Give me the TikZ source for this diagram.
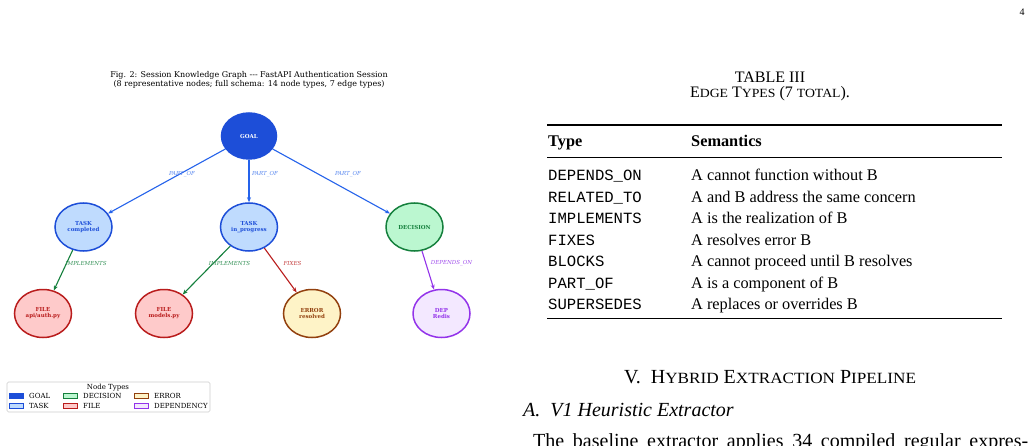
\documentclass[tikz,border=0pt]{standalone}
\usepackage{fontspec}
\setmainfont{Liberation Serif}
\setmonofont{Liberation Mono}
\newfontfamily\figfont{DejaVu Serif}
\newfontfamily\scfont[FakeStretch=1.1]{Liberation Serif}
\usetikzlibrary{arrows.meta, shapes.geometric}

\definecolor{goalblue}{HTML}{1D4ED8}
\definecolor{taskfill}{HTML}{BFDBFE}
\definecolor{decfill}{HTML}{BBF7D0}
\definecolor{decline}{HTML}{15803D}
\definecolor{filefill}{HTML}{FECACA}
\definecolor{fileline}{HTML}{B91C1C}
\definecolor{errfill}{HTML}{FEF3C7}
\definecolor{errline}{HTML}{92400E}
\definecolor{depfill}{HTML}{F3E8FF}
\definecolor{depline}{HTML}{9333EA}
\definecolor{partblue}{HTML}{2563EB}
\definecolor{implgreen}{HTML}{15803D}
\definecolor{legline}{HTML}{CCCCCC}

\newcommand\fsz[1]{\fontsize{#1}{#1}\selectfont}
\newcommand\smc[2]{{\scfont\fsz{#2}#1}}

\begin{document}
\begin{tikzpicture}[x=1pt, y=-1pt, >={Stealth[length=5pt, width=4pt]}]

  \tikzstyle{knode}=[ellipse, line width=1.5pt, minimum width=57pt, minimum height=48pt, inner sep=0pt, align=center, font=\figfont\bfseries\fontsize{5.5}{6}\selectfont]
  \tikzstyle{goal}=[knode, draw=goalblue, fill=goalblue, text=white, minimum width=55pt, minimum height=46pt]
  \tikzstyle{task}=[knode, draw=goalblue, fill=taskfill, text=goalblue]
  \tikzstyle{dec}=[knode, draw=decline, fill=decfill, text=decline]
  \tikzstyle{filn}=[knode, draw=fileline, fill=filefill, text=fileline]
  \tikzstyle{err}=[knode, draw=errline, fill=errfill, text=errline]
  \tikzstyle{dep}=[knode, draw=depline, fill=depfill, text=depline]
  \tikzstyle{rel}=[line width=1.1pt, ->]
  \tikzstyle{elab}=[inner sep=0pt, font=\figfont\itshape\fontsize{5.5}{6}\selectfont]
  \tikzstyle{patch}=[draw, line width=0.8pt, minimum width=14pt, minimum height=5pt, inner sep=0pt]
  \tikzstyle{legtxt}=[anchor=west, inner sep=0pt, font=\figfont\fontsize{7}{8}\selectfont]
  \tikzstyle{cell}=[anchor=base west, inner sep=0pt, font=\fontsize{16.3}{18}\selectfont]
  \tikzstyle{code}=[cell, font=\ttfamily\fontsize{15.6}{18}\selectfont]

  \clip (0,0) rectangle (1032,446);
  \fill[white] (0,0) rectangle (1032,446);

  % figure caption
  \node[align=center, font=\figfont\fontsize{8}{9}\selectfont] (figcap) at (249,79.5)
    {Fig. 2: Session Knowledge Graph --- FastAPI Authentication Session\\
     (8 representative nodes; full schema: 14 node types, 7 edge types)};

  \node[goal] (goal) at (249,136) {GOAL};

  \node[task] (tdone) at (83.5,227) {TASK\\completed};
  \node[task] (tprog) at (249,227) {TASK\\in\_progress};
  \node[dec] (decis) at (414.5,227) {DECISION};

  \node[filn] (fauth) at (43,313.5) {FILE\\api/auth.py};
  \node[filn] (fmod) at (164,313.5) {FILE\\models.py};
  \node[err] (error) at (312,313.5) {ERROR\\resolved};
  \node[dep] (redis) at (441.5,313.5) {DEP\\Redis};

  \draw[rel, partblue] (goal) -- (tdone);
  \draw[rel, partblue] (goal) -- (tprog);
  \draw[rel, partblue] (goal) -- (decis);
  \draw[rel, implgreen] (tdone) -- (fauth);
  \draw[rel, implgreen] (tprog) -- (fmod);
  \draw[rel, fileline] (tprog) -- (error);
  \draw[rel, depline] (decis) -- (redis);

  \node[elab, partblue!75] (l1) at (182,174) {PART\_OF};
  \node[elab, partblue!75] (l2) at (265,174) {PART\_OF};
  \node[elab, partblue!75] (l3) at (348,174) {PART\_OF};
  \node[elab, implgreen!85] (l4) at (86,263) {IMPLEMENTS};
  \node[elab, implgreen!85] (l5) at (229.5,263) {IMPLEMENTS};
  \node[elab, fileline!85] (l6) at (292.5,263) {FIXES};
  \node[elab, depline!85] (l7) at (451.5,263) {DEPENDS\_ON};

  % legend
  \draw[legline, rounded corners=1.5pt, line width=0.6pt] (7,382) rectangle (210,412);
  \node[font=\figfont\fontsize{7}{8}\selectfont, inner sep=0pt] (legtitle) at (108,387.5) {Node Types};
  \node[patch, draw=goalblue, fill=goalblue] (pgoal) at (16,396) {};
  \node[legtxt] (tgoal) at (29,396) {GOAL};
  \node[patch, draw=goalblue, fill=taskfill] (ptask) at (16,406) {};
  \node[legtxt] (ttask) at (29,406) {TASK};
  \node[patch, draw=decline, fill=decfill] (pdec) at (70,396) {};
  \node[legtxt] (tdec) at (83,396) {DECISION};
  \node[patch, draw=fileline, fill=filefill] (pfile) at (70,406) {};
  \node[legtxt] (tfile) at (83,406) {FILE};
  \node[patch, draw=errline, fill=errfill] (perr) at (141,396) {};
  \node[legtxt] (terr) at (154,396) {ERROR};
  \node[patch, draw=depline, fill=depfill] (pdep) at (141,406) {};
  \node[legtxt] (tdep) at (154,406) {DEPENDENCY};

  % page number
  \node[font=\fontsize{10}{12}\selectfont, inner sep=0pt] (pageno) at (1022,12) {4};

  % table
  \node[font=\fontsize{16}{18}\selectfont, inner sep=0pt] (tabno) at (770,77) {TABLE III};
  \node[font=\fontsize{16}{18}\selectfont, inner sep=0pt] (tabcap) at (770,94)
    {E\smc{DGE}{12.5} T\smc{YPES}{12.5} (7 \smc{TOTAL}{12.5}).};
  \draw[line width=1.3pt] (547,125) coordinate (ruletop) -- (1002,125);
  \node[cell, font=\bfseries\fontsize{16.3}{18}\selectfont] (htype) at (548,147) {Type};
  \node[cell, font=\bfseries\fontsize{16.3}{18}\selectfont] (hsem) at (691,147) {Semantics};
  \draw[line width=0.8pt] (547,157.3) coordinate (rulemid) -- (1002,157.3);
  \node[code] (r1a) at (548,181) {DEPENDS\_ON};
  \node[cell] (r1b) at (691,181) {A cannot function without B};
  \node[code] (r2a) at (548,202.4) {RELATED\_TO};
  \node[cell] (r2b) at (691,202.4) {A and B address the same concern};
  \node[code] (r3a) at (548,223.8) {IMPLEMENTS};
  \node[cell] (r3b) at (691,223.8) {A is the realization of B};
  \node[code] (r4a) at (548,245.2) {FIXES};
  \node[cell] (r4b) at (691,245.2) {A resolves error B};
  \node[code] (r5a) at (548,266.6) {BLOCKS};
  \node[cell] (r5b) at (691,266.6) {A cannot proceed until B resolves};
  \node[code] (r6a) at (548,288) {PART\_OF};
  \node[cell] (r6b) at (691,288) {A is a component of B};
  \node[code] (r7a) at (548,309.4) {SUPERSEDES};
  \node[cell] (r7b) at (691,309.4) {A replaces or overrides B};
  \draw[line width=1.3pt] (547,318.7) coordinate (rulebot) -- (1002,318.7);

  % section text
  \node[font=\fontsize{20}{22}\selectfont, inner sep=0pt] (sect) at (770,377)
    {V.\ \ H\smc{YBRID}{15.6} E\smc{XTRACTION}{15.6} P\smc{IPELINE}{15.6}};
  \node[anchor=base west, inner sep=0pt, font=\itshape\fontsize{20}{22}\selectfont] (subsect) at (523,416)
    {A.\ \ V1 Heuristic Extractor};
  \node[anchor=base west, inner sep=0pt, font=\fontsize{20}{22}\selectfont] (body) at (533,447)
    {\makebox[495pt][s]{The baseline extractor applies 34 compiled regular expres-}};
\end{tikzpicture}
\end{document}
